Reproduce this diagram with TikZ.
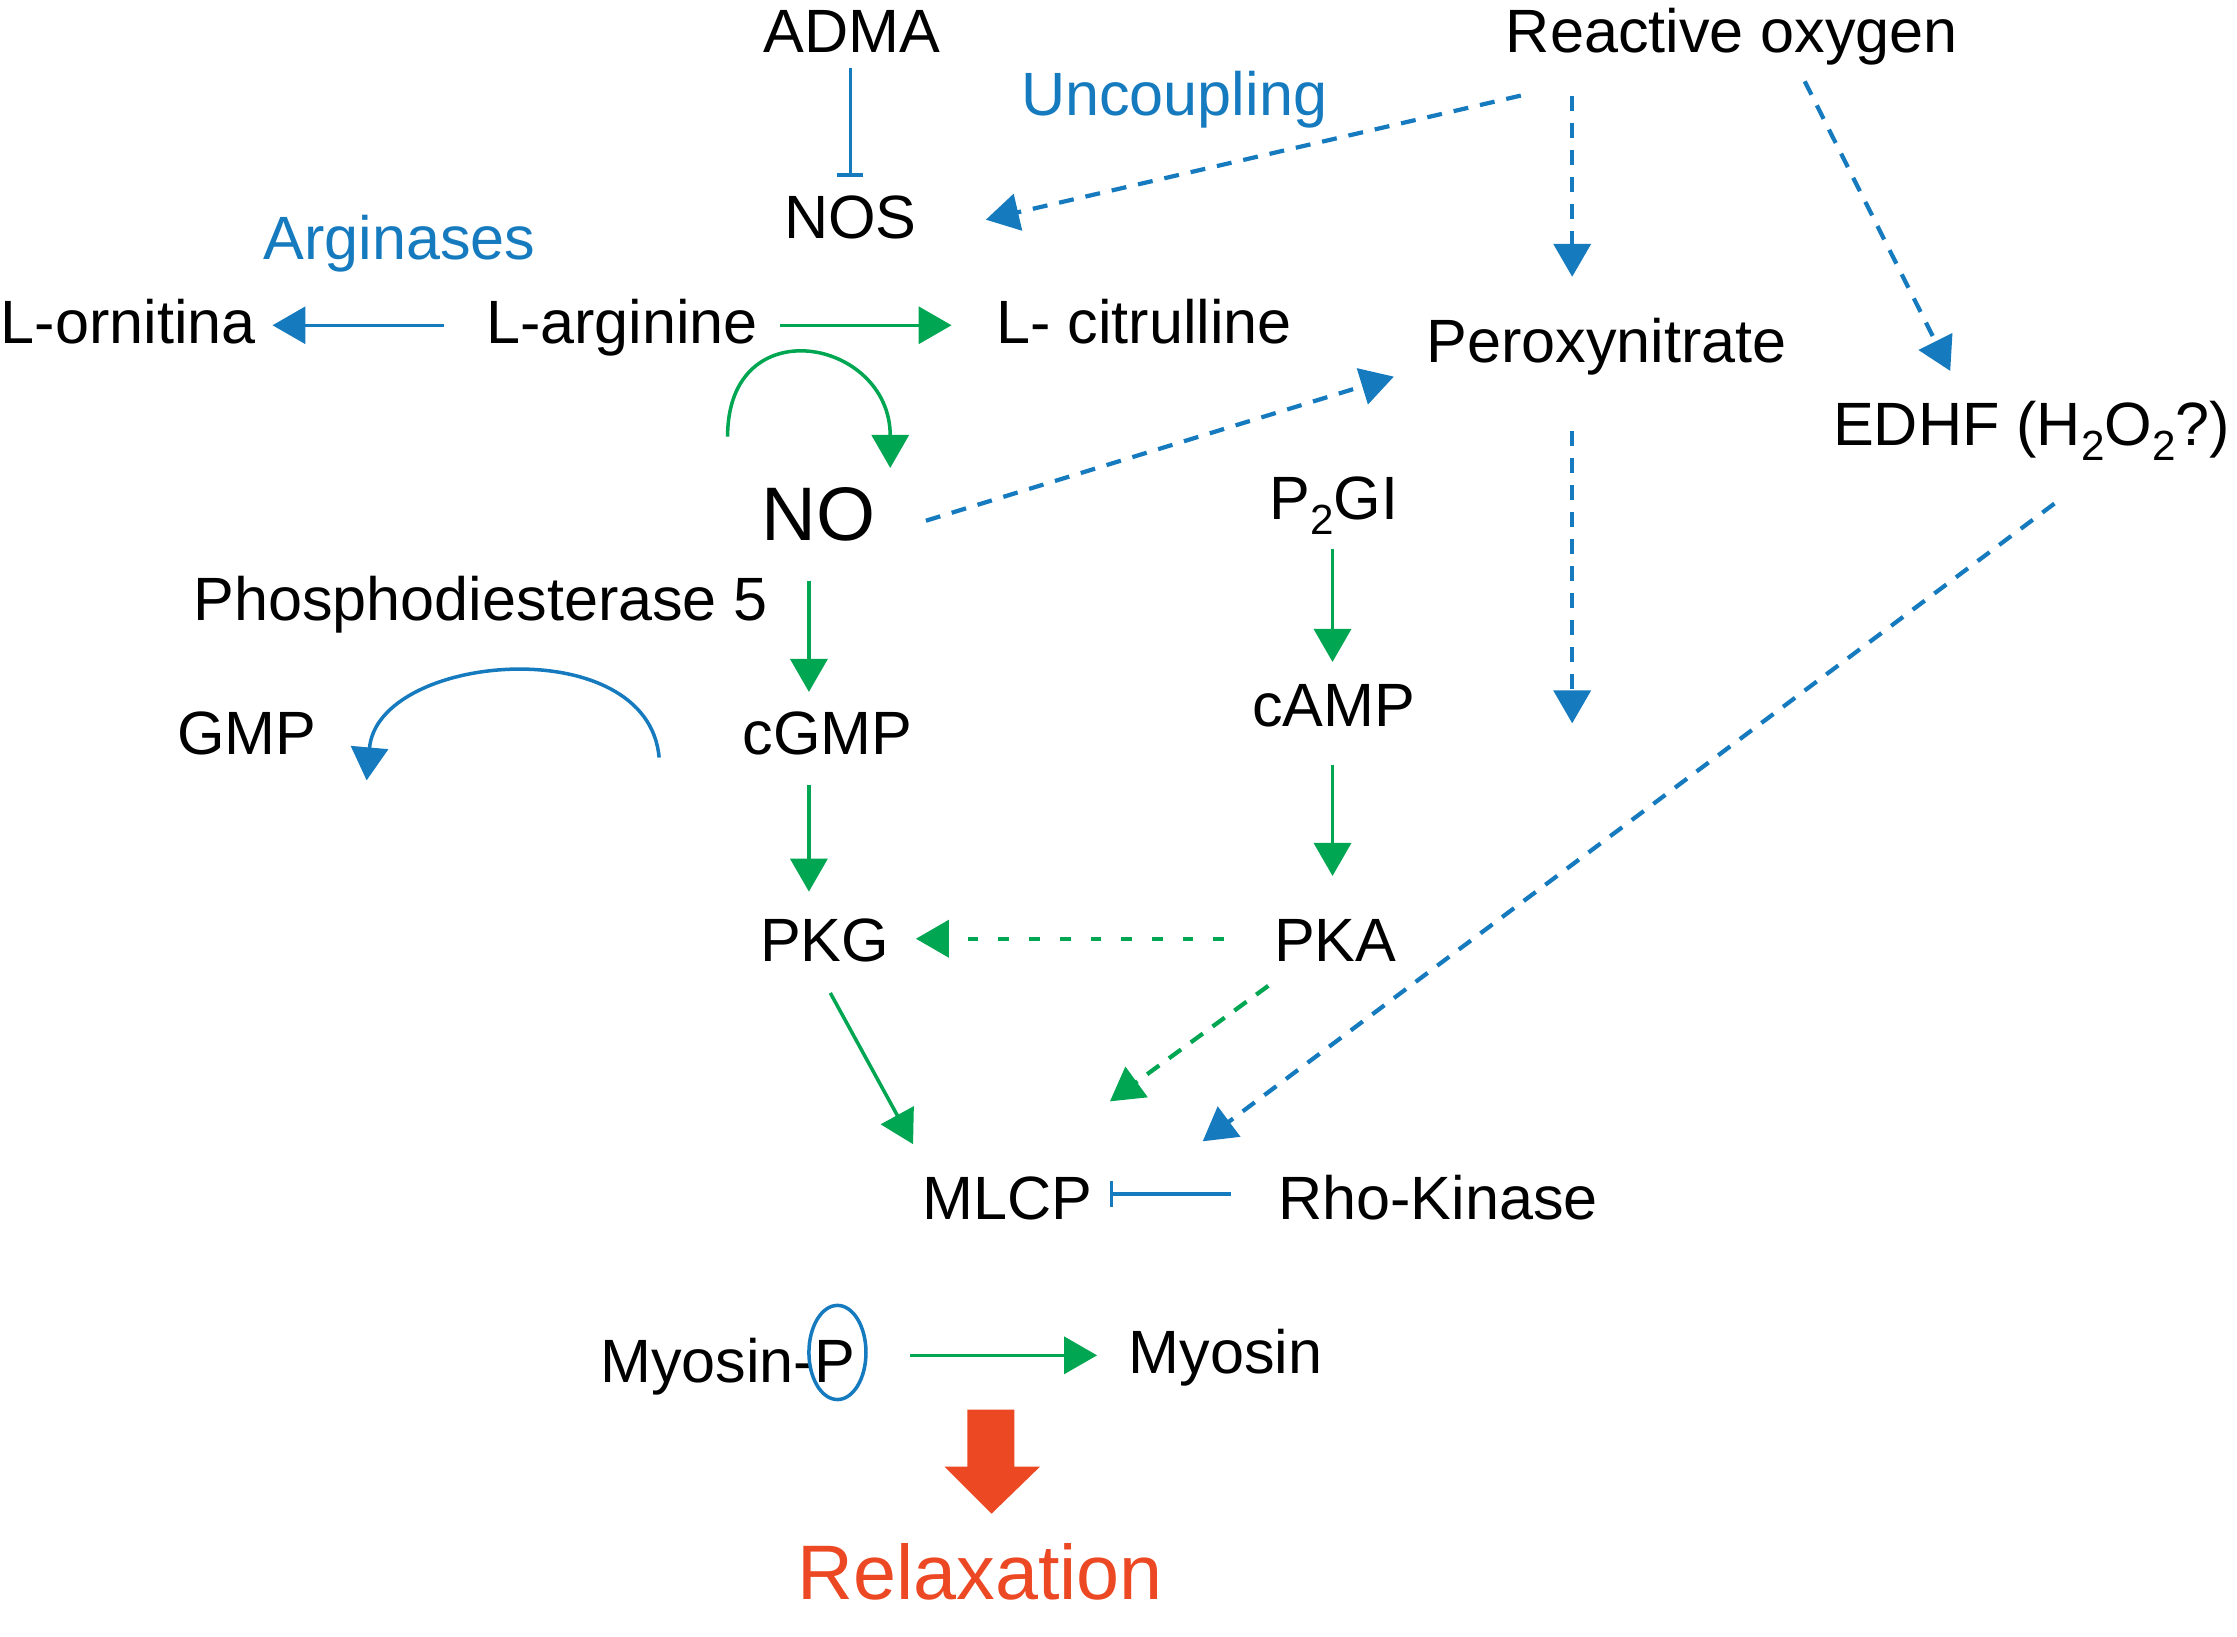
\documentclass[tikz,border=0pt]{standalone}
\usepackage{fontspec}
\setmainfont{Liberation Sans}
\usetikzlibrary{arrows.meta,calc}
\definecolor{bleu}{RGB}{22, 122, 190}
\definecolor{vert}{RGB}{0, 166, 81}
\definecolor{rouge}{RGB}{236, 72, 36}
\newcommand{\indice}[1]{\raisebox{-4.3pt}{\fontsize{12}{14}\selectfont #1}}

\begin{document}
\begin{tikzpicture}[x=0.142666mm,y=0.142666mm,
		txt/.style={inner sep=0pt, anchor=base, font=\fontsize{17.4}{20}\selectfont},
		fleche/.style={line width=1pt, -{Triangle[length=3.3mm,width=3.7mm]}},
		pointille/.style={fleche, line width=1.2pt, dash pattern=on 1.5mm off 1.2mm},
		inhib/.style={line width=1pt, -{Bar[width=2.6mm]}}]
				\useasboundingbox (0,0) rectangle (1568,-1147.4);
				\foreach \nom/\x/\y/\texte in {adma/597/37/ADMA, ros/1214/37/Reactive oxygen,
					nos/596/167/NOS, lorn/90/241/L-ornitina, larg/436/241/L-arginine,
					lcit/802/241/L- citrulline, perox/1126/254/Peroxynitrate,
					edhf/1424/312/{EDHF (H\indice{2}O\indice{2}?)},
					ptgi/935/364/{P\indice{2}GI}, pde/337/435/Phosphodiesterase 5,
					gmp/173/529/GMP, cgmp/580/529/cGMP, camp/935/509/cAMP,
					pkg/578/674/PKG, pka/936/674/PKA, mlcp/706/855/MLCP,
					rho/1008/855/Rho-Kinase, myop/510/969/Myosin-P, myo/859/963/Myosin}{
					\node[txt] (\nom) at (\x,-\y) {\texte};}
				\node[txt, font=\fontsize{21.6}{24}\selectfont] (no) at (574,-379) {NO};
				\node[txt, bleu] (uncoup) at (823,-81) {Uncoupling};
				\node[txt, bleu] (argin) at (280,-182) {Arginases};
				\node[txt, rouge, font=\fontsize{22}{26}\selectfont] (relax) at (687,-1121) {Relaxation};
				% L-arginine et NO
				\draw[bleu,inhib] ($(adma.base)+(-1,-11)$) -- ($(nos.base)+(0,43)$);
				\draw[bleu,pointille] ($(ros.base)+(-148,-30)$) -- ($(nos.base)+(95,13)$);
				\draw[bleu,pointille] ($(ros.base)+(-112,-30)$) -- ($(perox.base)+(-24,60)$);
				\draw[bleu,pointille] ($(ros.base)+(51,-20)$) -- ($(edhf.base)+(-57,52)$);
				\draw[bleu,fleche] ($(larg.base)+(-125,13)$) -- ($(lorn.base)+(101,13)$);
				\draw[vert,fleche] ($(larg.base)+(111,13)$) -- ($(lcit.base)+(-135,13)$);
				\draw[vert,fleche] ($(larg.base)+(74,-65)$) to[out=90,in=90,looseness=2] ($(no.base)+(50,51)$);
				\draw[bleu,pointille] ($(no.base)+(75,14)$) -- ($(perox.base)+(-149,-10)$);
				\coordinate (basperox) at (1102,-507);
				\draw[bleu,pointille] ($(perox.base)+(-24,-48)$) -- (basperox);
				\draw[bleu,pointille] ($(edhf.base)+(16,-41)$) -- ($(mlcp.base)+(137,55)$);
				% cGMP et cAMP
				\draw[vert,fleche] ($(no.base)+(-7,-28)$) -- ($(cgmp.base)+(-13,44)$);
				\draw[bleu,fleche] ($(cgmp.base)+(-118,-2)$) to[out=95,in=85,looseness=1.12] ($(gmp.base)+(84,-18)$);
				\draw[vert,fleche] ($(cgmp.base)+(-13,-21)$) -- ($(pkg.base)+(-11,49)$);
				\draw[vert,fleche] ($(ptgi.base)+(-1,-21)$) -- ($(camp.base)+(-1,45)$);
				\draw[vert,fleche] ($(camp.base)+(-1,-27)$) -- ($(pka.base)+(-2,60)$);
				\draw[vert,pointille,dash pattern=on 1.07mm off 2mm] ($(pka.base)+(-78,16)$) -- ($(pkg.base)+(64,16)$);
				\draw[vert,fleche] ($(pkg.base)+(4,-22)$) -- ($(mlcp.base)+(-66,53)$);
				\draw[vert,pointille] ($(pka.base)+(-47,-17)$) -- ($(mlcp.base)+(72,83)$);
				\draw[bleu,inhib] ($(rho.base)+(-145,18)$) -- ($(mlcp.base)+(72,18)$);
				% myosine
				\draw[vert,fleche] ($(myop.base)+(128,19)$) -- ($(myo.base)+(-90,13)$);
				\draw[bleu,line width=1pt] (587,-948) ellipse[x radius=20, y radius=33];
				\fill[rouge] (678,-988) -- (711,-988) -- (711,-1028) -- (729,-1028) -- (695,-1061)
					-- (662,-1028) -- (678,-1028) -- cycle;
			\end{tikzpicture}
\end{document}
